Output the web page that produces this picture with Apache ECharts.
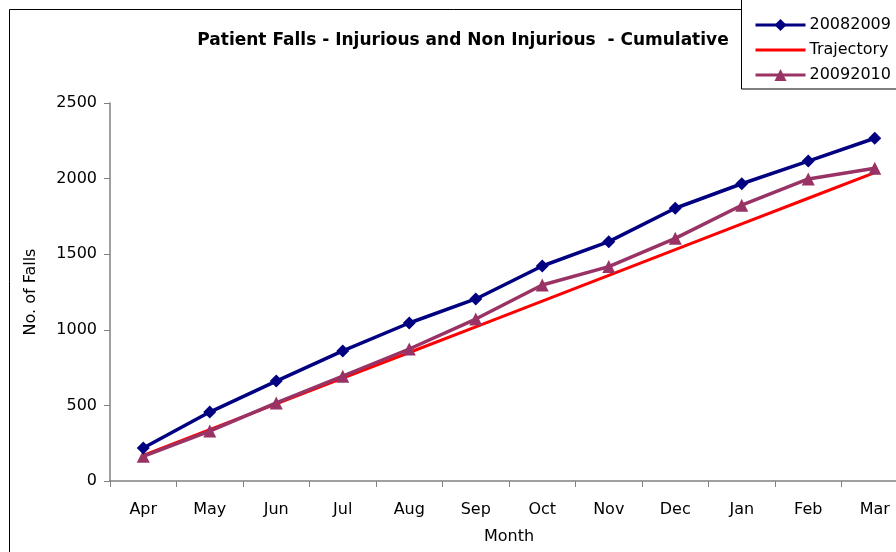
<!DOCTYPE html>
<html>
<head>
<meta charset="utf-8">
<script src="https://cdn.jsdelivr.net/npm/echarts@6/dist/echarts.min.js"></script>
<style>
  html, body { margin: 0; padding: 0; background: #fff; }
  #chart { width: 896px; height: 552px; }
</style>
</head>
<body>
<div id="chart"></div>
<script>
// data
const months = ["Apr", "May", "Jun", "Jul", "Aug", "Sep", "Oct", "Nov", "Dec", "Jan", "Feb", "Mar"];
const falls0809 = [218, 456, 661, 860, 1045, 1204, 1422, 1583, 1804, 1966, 2116, 2267];
const trajectory = [170, 340, 510, 680, 850, 1020, 1190, 1360, 1530, 1700, 1870, 2040];
const falls0910 = [163, 330, 516, 693, 873, 1071, 1296, 1418, 1605, 1824, 1998, 2068];
const yTicks = [0, 500, 1000, 1500, 2000, 2500];

const font = "'DejaVu Sans', Arial, sans-serif";

const chart = echarts.init(document.getElementById("chart"));

chart.setOption({
    backgroundColor: "#fff",
    animation: false,
    title: {
        text: "Patient Falls - Injurious and Non Injurious  - Cumulative",
        left: 458,
        textAlign: "center",
        top: 27,
        textStyle: { fontFamily: font, fontSize: 17, fontWeight: "bold", color: "#000" },
    },
    graphic: [
        {
            type: "rect",
            shape: { x: 9.5, y: 9.5, width: 1000, height: 1000 },
            style: { fill: "none", stroke: "#000", lineWidth: 1 },
            silent: true,
        },
        {
            type: "rect",
            shape: { x: 741.5, y: -2, width: 200, height: 91 },
            style: { fill: "#fff", stroke: "#000", lineWidth: 1 },
            silent: true,
            z: 5,
        },
    ],
    legend: {
        orient: "vertical",
        left: 754,
        top: 17,
        padding: 0,
        itemWidth: 50,
        itemHeight: 15,
        itemGap: 9,
        z: 10,
        lineStyle: { width: 3 },
        textStyle: { fontFamily: font, fontSize: 16, color: "#000", padding: [0, 0, 0, -1] },
        data: [
            { name: "20082009" },
            { name: "Trajectory", itemStyle: { opacity: 0 } },
            { name: "20092010" },
        ],
    },
    grid: { left: 110, top: 103, bottom: 71, right: -12, outerBoundsMode: "none" },
    xAxis: {
        type: "category",
        data: months,
        boundaryGap: true,
        name: "Month",
        nameLocation: "middle",
        nameGap: 48,
        nameTextStyle: { fontFamily: font, fontSize: 16, color: "#000" },
        axisLine: { lineStyle: { color: "#808080", width: 1.5 } },
        axisTick: { show: true, length: 6, alignWithLabel: false, lineStyle: { color: "#808080" } },
        axisLabel: { fontFamily: font, fontSize: 16, color: "#000", margin: 21, interval: 0 },
        splitLine: { show: false },
    },
    yAxis: {
        type: "value",
        min: yTicks[0],
        max: yTicks[yTicks.length - 1],
        interval: 500,
        name: "No. of Falls",
        nameLocation: "middle",
        nameGap: 71,
        nameTextStyle: { fontFamily: font, fontSize: 16, color: "#000" },
        axisLine: { show: true, lineStyle: { color: "#808080", width: 1.5 } },
        axisTick: { show: true, length: 6, lineStyle: { color: "#808080" } },
        axisLabel: { fontFamily: font, fontSize: 16, color: "#000", margin: 13, formatter: (v) => String(v) },
        splitLine: { show: false },
    },
    series: [
        {
            name: "Trajectory",
            type: "line",
            data: trajectory,
            showSymbol: false,
            symbol: "none",
            lineStyle: { color: "#ff0000", width: 3 },
            itemStyle: { color: "#ff0000" },
            z: 2,
        },
        {
            name: "20092010",
            type: "line",
            data: falls0910,
            symbol: "triangle",
            symbolSize: 13,
            lineStyle: { color: "#993366", width: 3.5 },
            itemStyle: { color: "#993366" },
            z: 3,
        },
        {
            name: "20082009",
            type: "line",
            data: falls0809,
            symbol: "diamond",
            symbolSize: 13,
            lineStyle: { color: "#000080", width: 3.5 },
            itemStyle: { color: "#000080" },
            z: 4,
        },
    ],
});
</script>
</body>
</html>
